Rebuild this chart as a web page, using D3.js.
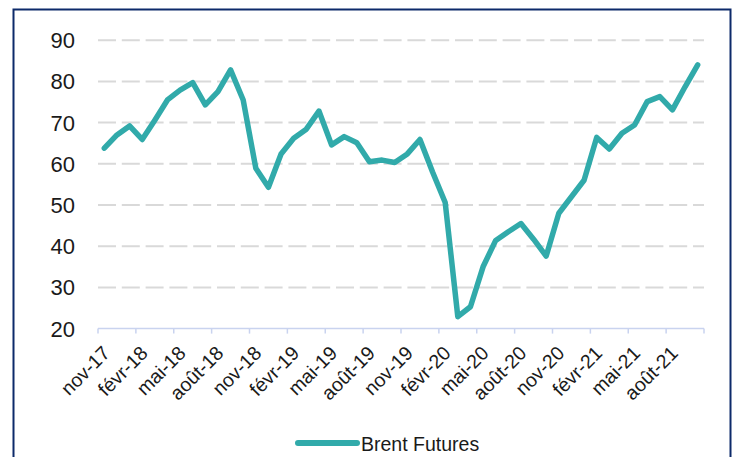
<!DOCTYPE html>
<html>
<head>
<meta charset="utf-8">
<script src="https://cdn.jsdelivr.net/npm/d3@7"></script>
<style>
  body { margin: 0; background: #fff; }
  text { font-family: "Liberation Sans", Arial, sans-serif; fill: #1a1a1a; }
</style>
</head>
<body>
<script>
// monthly categories, nov-17 .. oct-21
var categories = [
  "nov-17", "déc-17", "janv-18", "févr-18", "mars-18", "avr-18", "mai-18", "juin-18",
  "juil-18", "août-18", "sept-18", "oct-18", "nov-18", "déc-18", "janv-19", "févr-19",
  "mars-19", "avr-19", "mai-19", "juin-19", "juil-19", "août-19", "sept-19", "oct-19",
  "nov-19", "déc-19", "janv-20", "févr-20", "mars-20", "avr-20", "mai-20", "juin-20",
  "juil-20", "août-20", "sept-20", "oct-20", "nov-20", "déc-20", "janv-21", "févr-21",
  "mars-21", "avr-21", "mai-21", "juin-21", "juil-21", "août-21", "sept-21", "oct-21"
];
var brent = [
  63.8, 67.0, 69.2, 65.9, 70.6, 75.5, 77.9, 79.7,
  74.3, 77.5, 82.8, 75.5, 58.9, 54.3, 62.4, 66.2,
  68.4, 72.8, 64.6, 66.6, 65.1, 60.5, 60.9, 60.3,
  62.4, 65.9, 58.0, 50.6, 22.9, 25.3, 35.0, 41.4,
  43.5, 45.5, 41.7, 37.6, 48.0, 52.0, 56.0, 66.4,
  63.6, 67.4, 69.4, 75.1, 76.3, 73.1, 78.7, 84.0
];
var yTicks = [20, 30, 40, 50, 60, 70, 80, 90];
var seriesName = "Brent Futures";

var W = 735, H = 457;
var plotLeft = 98, plotRight = 704, plotTop = 40.2, plotBottom = 328.6;
var lineColor = "#31aaaa";

var svg = d3.select("body").append("svg")
    .attr("width", W)
    .attr("height", H);

svg.append("rect").attr("width", W).attr("height", H).attr("fill", "#fff");

// frame
svg.append("rect")
    .attr("x", 13.5).attr("y", 9.5)
    .attr("width", 717).attr("height", 500)
    .attr("fill", "none")
    .attr("stroke", "#0d2a6a")
    .attr("stroke-width", 2);

var x = d3.scaleBand().domain(categories).range([plotLeft, plotRight]);
var y = d3.scaleLinear().domain([20, 90]).range([plotBottom, plotTop]);
var bw = x.bandwidth();

// gridlines
svg.append("g").selectAll("line")
    .data(yTicks.filter(function(d) { return d > 20; }))
    .enter().append("line")
    .attr("x1", plotLeft).attr("x2", plotRight)
    .attr("y1", function(d) { return y(d); })
    .attr("y2", function(d) { return y(d); })
    .attr("stroke", "#d9d9d9")
    .attr("stroke-width", 2)
    .attr("stroke-dasharray", "18,5.8");

// y labels
svg.append("g").selectAll("text")
    .data(yTicks)
    .enter().append("text")
    .attr("x", 75)
    .attr("y", function(d) { return y(d); })
    .attr("dy", "0.36em")
    .attr("text-anchor", "end")
    .style("font-size", "22px")
    .text(function(d) { return d; });

// x axis
var axisG = svg.append("g");
axisG.append("line")
    .attr("x1", plotLeft).attr("x2", plotRight)
    .attr("y1", plotBottom).attr("y2", plotBottom)
    .attr("stroke", "#c9d3ef")
    .attr("stroke-width", 1.5);

var tickIdx = d3.range(0, categories.length + 1, 3);
axisG.selectAll(".tick")
    .data(tickIdx)
    .enter().append("line")
    .attr("class", "tick")
    .attr("x1", function(i) { return i < categories.length ? x(categories[i]) : x.range()[1]; })
    .attr("x2", function(i) { return i < categories.length ? x(categories[i]) : x.range()[1]; })
    .attr("y1", plotBottom).attr("y2", plotBottom + 5)
    .attr("stroke", "#c9d3ef")
    .attr("stroke-width", 1.5);

var labelCats = categories.filter(function(c, i) { return i % 3 === 0; });
axisG.selectAll(".lbl")
    .data(labelCats)
    .enter().append("text")
    .attr("class", "lbl")
    .attr("transform", function(d) {
        return "translate(" + (x(d) + bw / 2 + 2) + "," + (plotBottom + 21) + ") rotate(-45)";
    })
    .attr("dy", "0.35em")
    .attr("text-anchor", "end")
    .style("font-size", "19.5px")
    .text(function(d) { return d; });

// series line
var line = d3.line()
    .x(function(d, i) { return x(categories[i]) + bw / 2; })
    .y(function(d) { return y(d); });

svg.append("path")
    .datum(brent)
    .attr("d", line)
    .attr("fill", "none")
    .attr("stroke", lineColor)
    .attr("stroke-width", 5.5)
    .attr("stroke-linejoin", "round")
    .attr("stroke-linecap", "round");

// legend
var lg = svg.append("g");
lg.append("line")
    .attr("x1", 298).attr("x2", 357)
    .attr("y1", 443).attr("y2", 443)
    .attr("stroke", lineColor)
    .attr("stroke-width", 6)
    .attr("stroke-linecap", "round");
lg.append("text")
    .attr("x", 361).attr("y", 450.5)
    .style("font-size", "19.5px")
    .text(seriesName);
</script>
</body>
</html>
